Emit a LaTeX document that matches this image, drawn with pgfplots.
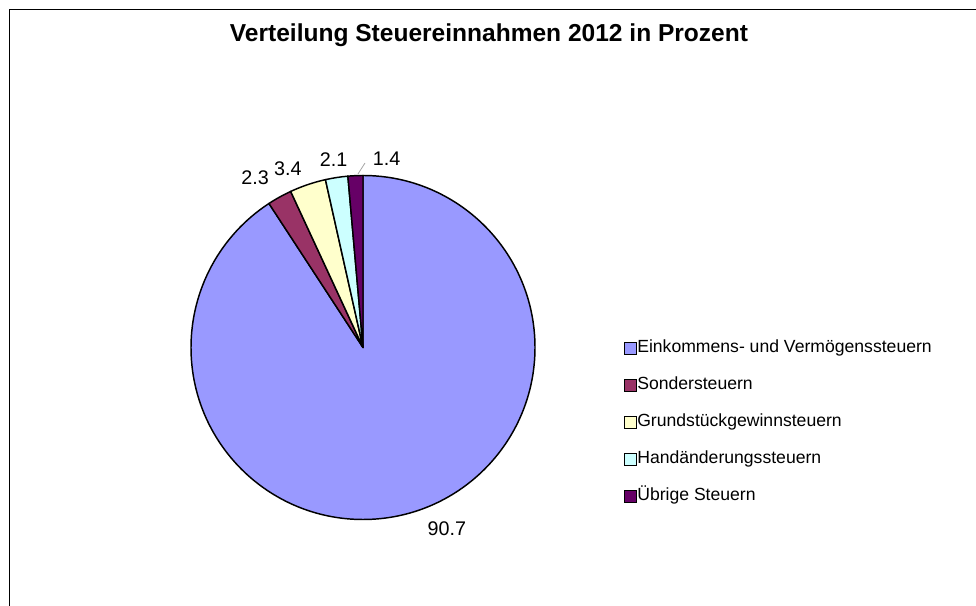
\documentclass[border=0pt]{standalone}
\usepackage{fontspec}
\setmainfont{Liberation Sans}
\usepackage{pgfplots}
\usepackage{pgfplotstable}
\pgfplotsset{compat=1.18}

\definecolor{slice0}{HTML}{9999FF}
\definecolor{slice1}{HTML}{993366}
\definecolor{slice2}{HTML}{FFFFCC}
\definecolor{slice3}{HTML}{CCFFFF}
\definecolor{slice4}{HTML}{660066}

% value = share in percent; labang/labrad = position of the data label
\pgfplotstableread[col sep=comma]{
name,value,labang,labrad
Einkommens- und Vermögenssteuern,90.7,-65.2,1.163
Sondersteuern,2.3,122.5,1.168
Grundstückgewinnsteuern,3.4,112.8,1.126
Handänderungssteuern,2.1,98.9,1.104
Übrige Steuern,1.4,82.9,1.107
}\steuern

\def\total{0}%
\pgfplotsforeachungrouped \i in {0,...,4}{%
  \pgfplotstablegetelem{\i}{value}\of\steuern
  \pgfmathsetmacro\total{\total+\pgfplotsretval}%
}%
\def\cum{90}%
\pgfplotsforeachungrouped \i in {0,...,4}{%
  \pgfplotstablegetelem{\i}{value}\of\steuern
  \expandafter\xdef\csname val\i\endcsname{\pgfplotsretval}%
  \pgfmathsetmacro\endang{\cum-(\pgfplotsretval/\total)*360}%
  \expandafter\xdef\csname sa\i\endcsname{\cum}%
  \expandafter\xdef\csname ea\i\endcsname{\endang}%
  \pgfplotstablegetelem{\i}{labang}\of\steuern
  \expandafter\xdef\csname la\i\endcsname{\pgfplotsretval}%
  \pgfplotstablegetelem{\i}{labrad}\of\steuern
  \expandafter\xdef\csname lr\i\endcsname{\pgfplotsretval}%
  \pgfplotstablegetelem{\i}{name}\of\steuern
  \expandafter\xdef\csname nm\i\endcsname{\pgfplotsretval}%
  \xdef\cum{\endang}%
}%

\pgfplotsset{pie legend/.style={legend image code/.code={%
  \draw[##1,line width=0.7pt] (0pt,-4.5pt) rectangle (9pt,4.5pt);}}}

\newcommand\labelfont{\fontsize{14.8}{17}\selectfont}

\begin{document}
\begin{tikzpicture}
\begin{scope}[x=0.75pt,y=-0.75pt,shift={(0pt,454.5pt)}]
  \path[use as bounding box] (0,0) rectangle (976,606);
  \draw[line width=1.1pt] (9.5,606) -- (9.5,9.5) -- (976,9.5);
  \node[font=\bfseries\fontsize{18.4}{22}\selectfont, anchor=base, inner sep=0pt]
    at (489,42) {Verteilung Steuereinnahmen 2012 in Prozent};
\end{scope}
\begin{axis}[
  at={(272.25pt,193.875pt)}, anchor=center,
  hide axis, scale only axis,
  width=258pt, height=258pt,
  xmin=-1, xmax=1, ymin=-1, ymax=1,
  clip=false,
  legend style={at={(1.259,0.524)}, anchor=north west, draw=none, fill=none,
    font=\fontsize{13.2}{15.6}\selectfont, inner sep=0pt,
    row sep=14.75pt,
    nodes={inner sep=0pt, text height=10pt, text depth=3pt},
    /tikz/every even column/.append style={column sep=1.5pt}},
  legend cell align=left,
]
\pgfplotsinvokeforeach{0,...,4}{
  \fill[fill=slice#1, draw=black, line width=1.1pt, line join=round]
    (axis cs:0,0) -- (axis cs:{cos(\csname sa#1\endcsname)},{sin(\csname sa#1\endcsname)})
    arc[start angle=\csname sa#1\endcsname, end angle=\csname ea#1\endcsname, radius=129pt] -- cycle;
  \node[font=\labelfont, inner sep=0pt]
    at (axis cs:{\csname lr#1\endcsname*cos(\csname la#1\endcsname)},{\csname lr#1\endcsname*sin(\csname la#1\endcsname)})
    {\csname val#1\endcsname};
  \addlegendimage{pie legend, fill=slice#1, draw=black}
  \addlegendentry{\csname nm#1\endcsname}
}
\draw[gray!70, line width=0.6pt] (axis cs:-0.029,1.009) -- (axis cs:0.0116,1.0727);
\end{axis}
\end{tikzpicture}
\end{document}
